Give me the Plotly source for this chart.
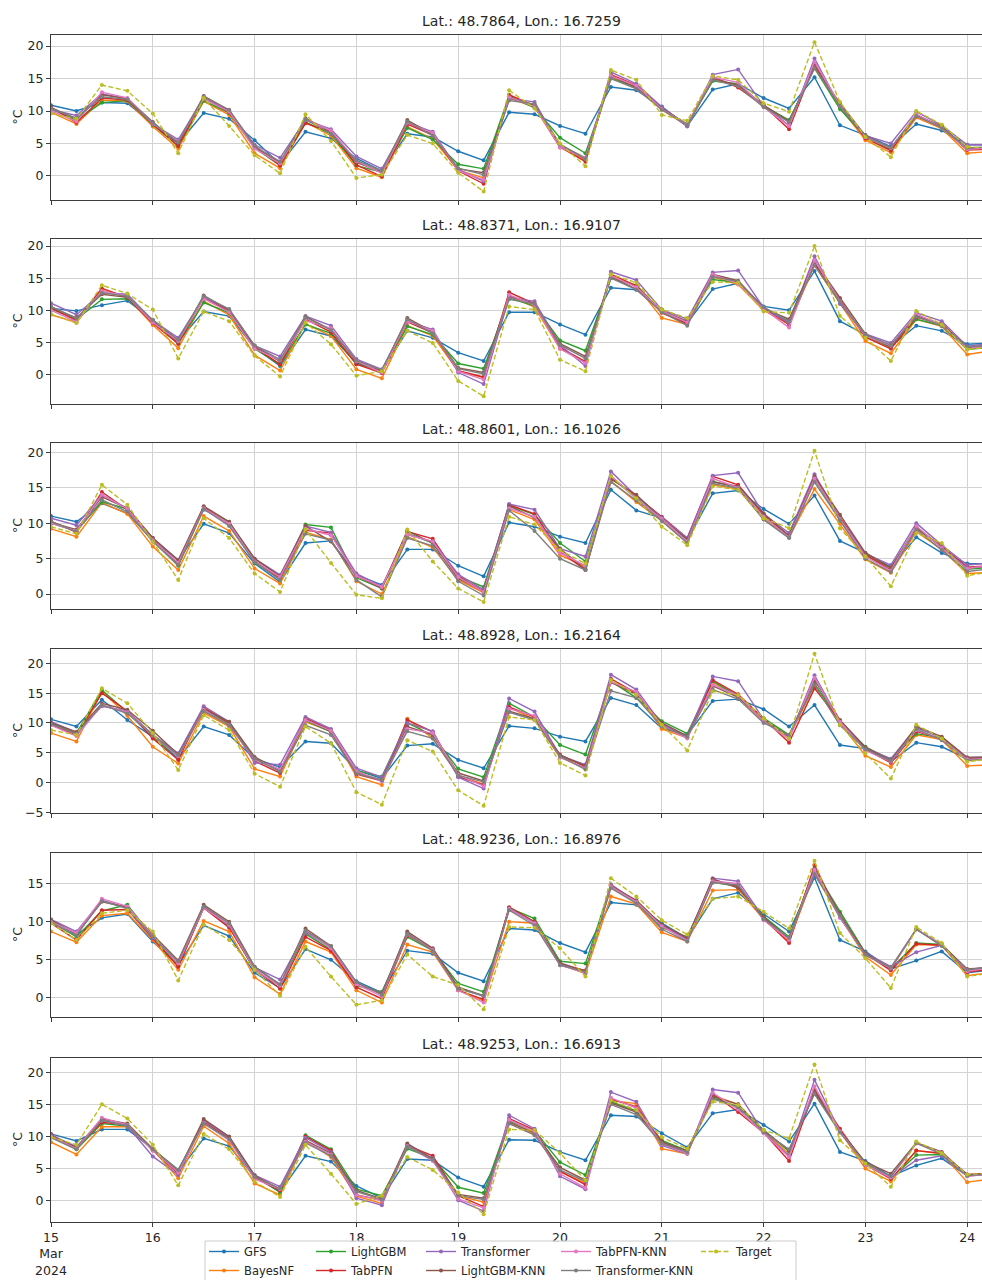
import pandas as pd
import plotly.graph_objects as go
from plotly.subplots import make_subplots

# ---------------- data ----------------
times = pd.date_range("2024-03-15 00:00", periods=38, freq="6h")

series_names = ["GFS", "BayesNF", "LightGBM", "TabPFN", "Transformer",
                "LightGBM-KNN", "TabPFN-KNN", "Transformer-KNN", "Target"]

panel_titles = ["Lat.: 48.7864, Lon.: 16.7259", "Lat.: 48.8371, Lon.: 16.9107",
                "Lat.: 48.8601, Lon.: 16.1026", "Lat.: 48.8928, Lon.: 16.2164",
                "Lat.: 48.9236, Lon.: 16.8976", "Lat.: 48.9253, Lon.: 16.6913"]

x_tick_dates = pd.date_range("2024-03-15", periods=10, freq="D")
x_tick_text = ["15<br>Mar<br>2024", "16", "17", "18", "19", "20", "21", "22", "23", "24"]

# Panel 1 : Lat 48.7864, Lon 16.7259
p1_gfs = [10.9, 10.0, 11.3, 11.2, 8.0, 5.0, 9.7, 8.8, 5.5, 1.8, 6.8, 5.8, 2.7, 0.8, 6.5, 6.0, 3.8, 2.4, 9.8, 9.5, 7.7, 6.5, 13.7, 13.2, 10.7, 7.7, 13.3, 14.2, 12.0, 10.4, 15.2, 7.8, 6.3, 4.5, 8.0, 7.0, 4.8, 4.8]
p1_bayesnf = [9.8, 8.0, 11.7, 11.5, 7.6, 4.2, 11.5, 9.4, 3.5, 1.2, 8.3, 6.2, 1.2, -0.2, 7.6, 5.7, 0.9, -0.3, 12.0, 10.6, 4.4, 2.4, 15.2, 13.5, 10.2, 7.7, 14.8, 13.9, 10.7, 8.3, 16.8, 10.6, 5.5, 3.6, 9.0, 7.3, 3.5, 3.8]
p1_lightgbm = [10.3, 8.6, 11.3, 11.6, 7.9, 4.6, 11.6, 9.7, 4.3, 1.6, 8.3, 6.5, 1.6, 0.6, 7.4, 5.6, 1.8, 1.1, 12.3, 10.5, 5.9, 3.5, 15.0, 13.8, 10.4, 8.0, 14.6, 14.2, 10.8, 8.6, 16.6, 10.3, 6.0, 4.0, 9.3, 7.6, 4.2, 4.2]
p1_tabpfn = [10.6, 8.2, 12.0, 11.7, 8.0, 4.6, 12.0, 9.8, 4.6, 1.6, 8.1, 6.8, 1.7, -0.1, 8.0, 6.3, 0.8, -1.2, 12.5, 10.8, 4.5, 2.2, 15.6, 14.0, 10.5, 7.8, 15.3, 13.6, 10.8, 7.2, 17.2, 10.9, 5.8, 3.9, 9.3, 7.5, 4.0, 4.1]
p1_transformer = [10.2, 9.3, 12.6, 11.9, 8.0, 5.6, 12.1, 10.0, 4.8, 2.8, 8.6, 7.2, 3.0, 1.1, 8.2, 6.8, 1.0, -0.8, 11.9, 11.4, 4.6, 2.6, 16.0, 14.2, 10.6, 7.6, 15.6, 16.4, 10.8, 7.8, 18.1, 10.7, 6.2, 5.0, 9.9, 7.8, 4.8, 4.8]
p1_lightgbm_knn = [10.5, 8.8, 12.5, 11.9, 8.3, 5.0, 12.3, 10.1, 4.5, 2.0, 8.9, 6.8, 2.1, 0.6, 8.6, 6.4, 1.1, 0.5, 12.0, 10.9, 4.8, 2.8, 15.4, 13.6, 10.4, 7.9, 15.0, 14.0, 10.9, 8.4, 16.8, 11.2, 6.2, 4.2, 9.4, 7.6, 4.2, 4.4]
p1_tabpfn_knn = [10.0, 8.4, 12.9, 12.0, 8.1, 5.3, 11.9, 9.9, 4.2, 1.9, 8.7, 7.0, 2.3, 0.4, 8.2, 6.6, 0.8, -0.6, 12.1, 10.7, 4.4, 2.8, 15.4, 13.9, 10.3, 7.9, 15.2, 14.4, 10.6, 7.7, 17.6, 10.9, 6.0, 4.3, 9.5, 7.4, 4.1, 4.3]
p1_transformer_knn = [10.4, 8.9, 12.2, 11.8, 8.2, 5.2, 12.2, 10.2, 4.6, 2.2, 8.7, 6.5, 2.4, 0.8, 8.4, 6.2, 1.2, 0.2, 11.6, 11.1, 4.9, 2.6, 15.0, 13.4, 10.2, 7.8, 14.8, 13.8, 10.6, 8.3, 16.6, 10.8, 6.1, 4.4, 9.2, 7.4, 4.3, 4.5]
p1_target = [9.6, 8.8, 14.0, 13.1, 9.6, 3.5, 12.0, 7.7, 3.2, 0.4, 9.5, 5.4, -0.3, 0.2, 6.3, 5.0, 0.5, -2.4, 13.2, 10.4, 5.0, 1.5, 16.3, 14.8, 9.4, 8.5, 15.4, 14.8, 11.2, 9.9, 20.6, 11.4, 6.0, 2.9, 10.0, 7.9, 4.5, 4.2]

# Panel 2 : Lat 48.8371, Lon 16.9107
p2_gfs = [10.3, 9.9, 10.8, 11.5, 8.5, 5.2, 9.8, 9.1, 4.2, 1.3, 7.0, 6.0, 1.8, 0.5, 6.8, 5.7, 3.4, 2.1, 9.7, 9.7, 7.8, 6.2, 13.5, 13.2, 10.1, 8.0, 13.3, 14.2, 10.6, 10.0, 16.1, 8.3, 6.2, 4.4, 7.6, 6.8, 4.7, 4.9]
p2_bayesnf = [9.3, 8.1, 13.1, 12.0, 7.7, 4.1, 11.4, 9.3, 3.0, 0.6, 7.9, 6.0, 0.8, -0.6, 7.6, 6.0, 0.5, -0.5, 12.2, 10.5, 4.0, 2.0, 15.2, 13.8, 8.8, 7.8, 15.2, 14.0, 10.0, 7.8, 17.0, 11.0, 5.2, 3.3, 8.6, 7.5, 3.1, 3.7]
p2_lightgbm = [10.2, 8.6, 11.7, 11.8, 8.2, 4.8, 11.2, 9.6, 4.0, 1.5, 7.8, 6.4, 1.6, 0.6, 7.5, 6.2, 1.7, 0.9, 11.9, 10.7, 5.3, 3.7, 15.0, 13.9, 9.8, 8.2, 14.8, 14.3, 10.2, 8.2, 17.2, 11.2, 6.0, 4.2, 8.6, 7.6, 3.9, 4.3]
p2_tabpfn = [10.4, 8.4, 13.4, 12.0, 8.0, 4.8, 12.0, 9.8, 4.2, 1.6, 8.6, 6.6, 1.6, 0.2, 8.2, 6.5, 0.6, -0.4, 12.8, 11.0, 4.2, 2.0, 15.6, 13.8, 9.6, 7.9, 15.5, 14.4, 10.4, 7.8, 17.4, 11.6, 5.8, 4.0, 8.9, 7.9, 4.2, 4.6]
p2_transformer = [11.1, 9.3, 12.7, 12.5, 8.4, 5.7, 12.0, 10.1, 4.5, 2.8, 9.1, 7.6, 2.4, 0.8, 8.3, 7.0, 0.3, -1.5, 12.0, 11.4, 4.6, 1.3, 16.0, 14.7, 10.1, 8.6, 15.9, 16.2, 10.4, 8.0, 18.4, 11.0, 6.3, 4.9, 9.6, 8.3, 4.4, 4.9]
p2_lightgbm_knn = [10.5, 8.8, 12.5, 12.0, 8.3, 5.0, 12.3, 10.0, 4.4, 2.0, 9.0, 7.0, 2.0, 0.5, 8.8, 6.6, 1.0, 0.3, 12.3, 10.9, 4.8, 2.8, 15.2, 13.3, 9.9, 8.3, 15.6, 14.6, 10.3, 8.6, 17.6, 11.9, 6.3, 4.3, 9.2, 7.8, 4.2, 4.5]
p2_tabpfn_knn = [10.0, 8.2, 13.0, 12.2, 8.1, 5.2, 11.8, 9.7, 4.0, 2.2, 8.4, 7.2, 2.1, 0.3, 8.3, 6.8, 0.5, -0.8, 12.4, 10.8, 4.0, 1.8, 15.4, 13.6, 9.9, 8.1, 15.6, 14.1, 10.2, 7.3, 17.8, 11.4, 6.0, 4.5, 9.4, 7.7, 4.0, 4.5]
p2_transformer_knn = [10.6, 8.7, 12.7, 12.2, 8.5, 5.4, 12.2, 10.2, 4.5, 2.3, 8.9, 6.9, 2.2, 0.7, 8.6, 6.4, 0.9, 0.1, 11.7, 11.0, 4.6, 2.5, 15.0, 13.2, 9.7, 7.6, 15.2, 14.5, 10.5, 8.3, 17.0, 11.3, 6.2, 4.6, 9.0, 7.6, 4.3, 4.6]
p2_target = [9.4, 8.0, 13.9, 12.6, 10.1, 2.5, 9.8, 8.3, 2.9, -0.3, 8.1, 4.7, -0.2, 0.5, 6.8, 4.9, -1.0, -3.4, 10.6, 10.1, 2.3, 0.5, 15.6, 14.3, 10.1, 8.8, 14.4, 14.3, 9.8, 9.6, 20.0, 9.1, 5.7, 2.1, 9.9, 7.8, 3.9, 4.3]

# Panel 3 : Lat 48.8601, Lon 16.1026
p3_gfs = [11.0, 10.2, 12.8, 11.4, 7.6, 4.8, 9.9, 8.6, 4.3, 1.7, 7.2, 7.5, 2.7, 1.3, 6.3, 6.3, 4.0, 2.5, 10.1, 9.5, 8.1, 7.2, 14.7, 11.8, 10.7, 7.6, 14.2, 14.6, 12.0, 9.9, 13.9, 7.5, 5.8, 3.8, 8.0, 5.8, 4.3, 4.3]
p3_bayesnf = [9.2, 8.1, 12.9, 11.3, 6.7, 3.4, 11.0, 8.9, 3.6, 1.5, 8.7, 7.7, 1.8, 0.0, 8.1, 6.6, 2.0, 0.2, 11.9, 10.5, 5.5, 3.9, 15.9, 13.0, 10.3, 7.3, 15.4, 14.8, 10.6, 8.0, 14.8, 9.9, 4.9, 3.0, 8.8, 6.3, 2.9, 3.1]
p3_lightgbm = [10.0, 8.9, 13.0, 12.0, 7.5, 4.0, 12.0, 10.2, 4.4, 2.3, 9.8, 9.4, 2.3, 0.8, 8.6, 7.2, 2.5, 1.0, 12.5, 11.2, 7.2, 4.6, 16.5, 13.5, 10.5, 7.8, 15.9, 15.0, 10.9, 8.3, 16.2, 10.4, 5.4, 3.7, 9.5, 6.6, 3.5, 3.8]
p3_tabpfn = [10.3, 8.7, 14.4, 11.9, 7.7, 4.2, 12.3, 9.8, 4.7, 2.2, 9.0, 8.6, 2.6, 1.0, 8.8, 7.8, 2.5, 0.4, 12.6, 11.3, 6.0, 3.4, 16.4, 13.8, 10.9, 7.9, 16.6, 15.4, 11.2, 8.2, 16.4, 10.8, 5.6, 3.4, 9.4, 6.7, 3.8, 4.0]
p3_transformer = [10.7, 9.7, 14.0, 12.1, 7.9, 4.7, 11.9, 10.0, 5.0, 2.7, 9.6, 8.7, 2.9, 1.1, 8.4, 7.4, 2.8, 0.6, 12.7, 11.9, 6.4, 5.3, 17.3, 13.8, 10.8, 7.9, 16.7, 17.1, 11.3, 8.6, 16.9, 10.6, 5.7, 4.1, 10.0, 6.9, 4.1, 4.4]
p3_lightgbm_knn = [10.1, 9.1, 13.7, 12.1, 7.9, 4.8, 12.4, 10.2, 5.0, 2.5, 9.6, 7.4, 2.6, 0.8, 8.9, 7.2, 2.2, 0.4, 12.4, 10.8, 6.4, 3.5, 16.2, 14.0, 10.6, 7.7, 15.8, 15.2, 11.4, 8.2, 16.6, 11.2, 5.8, 3.7, 9.3, 6.6, 3.7, 3.9]
p3_tabpfn_knn = [10.0, 8.9, 14.0, 12.0, 7.6, 4.4, 12.1, 9.9, 4.6, 2.4, 9.2, 8.3, 2.6, 1.0, 8.4, 7.4, 2.4, 0.3, 12.1, 10.9, 5.8, 4.0, 16.7, 13.4, 10.6, 7.4, 16.3, 15.0, 10.9, 8.0, 16.3, 10.6, 5.3, 3.3, 9.6, 6.5, 3.6, 4.1]
p3_transformer_knn = [10.2, 8.8, 13.3, 11.6, 7.4, 4.1, 12.0, 9.6, 4.5, 2.0, 8.5, 7.6, 2.0, -0.4, 7.9, 6.8, 1.8, -0.2, 11.8, 8.9, 5.0, 3.4, 15.8, 13.2, 10.3, 7.2, 15.6, 14.9, 10.5, 7.9, 15.8, 10.4, 5.0, 3.1, 9.1, 6.2, 3.2, 3.6]
p3_target = [9.5, 8.5, 15.4, 12.6, 7.4, 2.0, 10.7, 7.9, 2.9, 0.3, 9.1, 4.4, -0.1, -0.6, 9.1, 4.6, 0.8, -1.1, 10.9, 9.8, 6.2, 4.3, 16.6, 13.5, 9.5, 6.9, 15.2, 14.7, 10.7, 9.3, 20.2, 9.3, 5.3, 1.1, 8.6, 7.2, 2.6, 3.2]

# Panel 4 : Lat 48.8928, Lon 16.2164
p4_gfs = [10.6, 9.4, 13.9, 10.5, 7.7, 4.0, 9.4, 8.0, 4.0, 2.6, 6.9, 6.6, 2.1, 0.7, 6.2, 6.5, 3.8, 2.4, 9.5, 9.1, 7.7, 6.9, 14.2, 13.0, 9.1, 8.0, 13.7, 14.0, 12.3, 9.4, 13.0, 6.3, 5.7, 3.5, 6.7, 6.0, 4.0, 4.0]
p4_bayesnf = [8.3, 6.9, 15.3, 11.2, 6.0, 3.2, 11.7, 9.4, 2.3, 1.0, 10.2, 8.6, 1.0, -0.4, 10.7, 7.4, 1.2, -0.3, 12.6, 10.6, 4.2, 3.0, 16.9, 15.0, 9.0, 7.5, 16.8, 14.4, 10.2, 7.6, 16.3, 10.0, 4.5, 2.6, 8.0, 7.2, 2.8, 3.0]
p4_lightgbm = [10.0, 8.3, 15.5, 11.8, 7.6, 4.4, 12.4, 9.8, 4.0, 2.1, 10.4, 8.5, 2.0, 1.0, 10.0, 7.9, 2.3, 0.9, 13.3, 11.0, 6.3, 4.7, 17.0, 14.2, 10.3, 8.2, 17.0, 14.5, 10.8, 8.0, 16.6, 10.3, 6.0, 3.8, 8.2, 7.5, 4.0, 4.3]
p4_tabpfn = [9.8, 7.9, 15.0, 12.0, 7.4, 3.8, 12.6, 10.0, 3.6, 1.6, 10.8, 8.8, 1.4, 0.3, 10.5, 8.5, 1.0, -0.4, 12.7, 11.0, 4.7, 2.6, 17.4, 15.0, 9.6, 7.6, 17.2, 14.8, 10.7, 6.7, 15.8, 10.4, 5.6, 3.3, 8.6, 7.3, 4.1, 4.2]
p4_transformer = [10.2, 8.4, 12.8, 12.0, 8.0, 4.9, 12.8, 10.2, 3.3, 3.0, 11.0, 9.0, 2.4, 0.9, 10.0, 8.6, 0.9, -1.0, 14.1, 11.9, 4.5, 3.0, 18.1, 15.6, 9.8, 7.8, 17.8, 17.0, 10.6, 7.6, 18.0, 10.3, 5.8, 4.0, 9.2, 7.5, 4.2, 4.3]
p4_lightgbm_knn = [10.0, 8.5, 13.3, 12.2, 8.7, 4.7, 12.3, 10.2, 4.3, 2.0, 10.6, 8.6, 1.7, 0.4, 9.4, 8.0, 1.6, 0.3, 12.0, 10.7, 4.6, 2.8, 16.8, 14.8, 10.0, 7.8, 16.2, 14.3, 10.5, 7.8, 17.2, 10.5, 5.9, 3.7, 9.4, 7.7, 4.2, 4.3]
p4_tabpfn_knn = [9.6, 7.8, 13.0, 11.8, 7.9, 4.4, 12.2, 9.6, 3.9, 2.2, 10.5, 8.7, 1.9, 0.2, 9.0, 8.3, 1.3, -0.6, 12.4, 11.2, 4.2, 2.4, 16.9, 15.2, 9.6, 7.4, 16.4, 14.6, 10.3, 7.3, 17.6, 10.2, 5.4, 3.5, 8.8, 7.2, 3.9, 4.1]
p4_transformer_knn = [9.8, 8.2, 13.0, 11.6, 8.0, 4.6, 12.0, 9.6, 4.0, 1.8, 9.6, 8.0, 1.5, 0.4, 8.6, 7.4, 1.2, 0.1, 11.8, 10.5, 4.4, 2.2, 15.4, 14.2, 9.4, 7.7, 15.6, 14.0, 10.0, 8.0, 16.4, 9.6, 5.6, 3.6, 9.0, 7.1, 3.7, 4.0]
p4_target = [8.8, 8.0, 15.8, 13.3, 8.3, 2.1, 11.3, 8.8, 1.5, -0.7, 9.4, 6.6, -1.6, -3.7, 7.1, 5.2, -1.3, -3.9, 11.0, 10.5, 3.3, 1.2, 17.2, 14.7, 9.7, 5.4, 15.3, 14.7, 10.8, 7.4, 21.6, 9.7, 4.9, 0.7, 9.7, 7.4, 3.5, 4.0]

# Panel 5 : Lat 48.9236, Lon 16.8976
p5_gfs = [10.2, 8.3, 10.5, 11.0, 7.4, 4.3, 9.5, 8.1, 3.3, 1.3, 6.4, 5.0, 2.2, 0.7, 6.2, 5.8, 3.3, 2.2, 9.1, 8.9, 7.2, 6.0, 12.5, 12.2, 9.8, 7.8, 13.0, 13.8, 11.0, 8.7, 15.8, 7.6, 6.1, 3.8, 4.9, 6.1, 3.3, 3.7]
p5_bayesnf = [8.7, 7.3, 10.8, 11.1, 7.6, 3.7, 10.1, 8.7, 2.7, 0.5, 7.4, 6.0, 1.0, -0.6, 7.0, 6.0, 1.0, -0.4, 10.0, 9.8, 4.4, 3.2, 13.3, 12.3, 8.6, 7.4, 14.1, 14.2, 10.3, 7.4, 16.3, 10.6, 5.4, 3.0, 7.0, 6.9, 2.9, 3.4]
p5_lightgbm = [10.0, 8.0, 11.4, 12.2, 8.0, 4.2, 11.9, 9.4, 3.6, 1.6, 8.4, 6.3, 1.6, 0.8, 8.0, 6.2, 1.9, 0.8, 11.8, 10.4, 4.8, 4.5, 14.8, 12.6, 9.2, 8.0, 15.2, 14.6, 10.7, 8.0, 16.8, 11.3, 5.9, 3.8, 7.2, 7.0, 3.6, 3.9]
p5_tabpfn = [9.8, 7.6, 11.5, 11.6, 7.8, 4.1, 11.8, 9.2, 3.8, 1.2, 8.0, 6.2, 1.4, -0.1, 8.2, 6.4, 1.0, -0.2, 11.9, 10.0, 4.4, 3.6, 14.6, 12.7, 9.4, 7.6, 15.5, 14.6, 10.4, 7.2, 17.4, 10.6, 5.8, 3.6, 7.1, 6.9, 3.4, 3.8]
p5_transformer = [10.3, 8.7, 12.8, 11.8, 7.9, 4.6, 12.0, 9.5, 4.0, 2.4, 8.6, 6.6, 2.0, 0.6, 8.5, 6.2, 1.3, 0.2, 11.6, 9.8, 4.5, 3.3, 14.9, 12.6, 9.5, 7.6, 15.7, 15.3, 10.5, 7.7, 16.6, 10.5, 5.9, 4.1, 6.0, 6.9, 3.6, 4.2]
p5_lightgbm_knn = [10.2, 8.4, 12.6, 11.9, 8.3, 4.9, 12.2, 10.0, 4.1, 1.7, 9.1, 6.8, 2.0, 0.5, 8.7, 6.5, 1.4, 0.3, 11.8, 9.9, 4.6, 3.5, 14.7, 12.8, 9.6, 7.9, 15.6, 14.4, 10.6, 7.8, 17.0, 11.0, 5.8, 3.8, 9.0, 7.0, 3.8, 4.0]
p5_tabpfn_knn = [10.0, 8.5, 13.0, 12.0, 8.1, 4.5, 11.8, 9.6, 3.7, 1.6, 8.8, 6.5, 1.8, 0.2, 8.3, 6.3, 1.0, -0.6, 11.7, 9.8, 4.3, 3.3, 14.6, 12.6, 9.4, 7.5, 15.3, 15.0, 10.2, 7.6, 16.8, 10.6, 5.6, 3.9, 9.0, 6.9, 3.5, 4.0]
p5_transformer_knn = [9.9, 8.2, 12.7, 11.7, 8.0, 4.8, 12.0, 9.8, 4.0, 1.8, 8.8, 6.8, 2.1, 0.4, 8.4, 6.2, 1.2, 0.3, 11.5, 9.5, 4.3, 3.4, 14.4, 12.4, 9.0, 7.4, 15.1, 14.8, 10.3, 7.9, 16.2, 10.8, 5.6, 4.0, 9.0, 6.8, 3.7, 4.1]
p5_target = [9.8, 7.6, 11.1, 11.5, 8.7, 2.3, 9.6, 7.6, 3.7, 0.3, 6.7, 2.8, -0.9, -0.3, 5.7, 2.8, 1.7, -1.5, 9.3, 9.2, 6.5, 2.8, 15.7, 13.3, 10.2, 8.3, 13.0, 13.3, 11.3, 9.1, 18.0, 8.5, 5.2, 1.3, 9.3, 7.2, 2.8, 3.3]

# Panel 6 : Lat 48.9253, Lon 16.6913
p6_gfs = [10.4, 9.3, 11.1, 11.1, 8.1, 4.5, 9.7, 8.5, 3.7, 1.4, 7.0, 6.1, 2.3, 0.4, 6.5, 6.3, 3.6, 2.2, 9.5, 9.4, 7.6, 6.3, 13.3, 13.1, 10.5, 8.3, 13.6, 14.2, 11.8, 9.2, 15.1, 7.6, 6.2, 3.8, 5.5, 6.6, 3.9, 4.2]
p6_bayesnf = [9.1, 7.2, 11.5, 11.5, 8.0, 3.5, 11.6, 8.9, 2.7, 0.9, 9.4, 6.8, 0.7, -0.4, 8.5, 6.3, 0.8, -0.2, 12.0, 10.4, 4.5, 2.8, 15.6, 15.1, 8.1, 7.3, 16.4, 15.0, 10.8, 7.3, 17.0, 10.8, 5.0, 3.0, 7.8, 7.3, 2.9, 3.4]
p6_lightgbm = [10.0, 8.0, 12.0, 11.6, 8.0, 4.8, 12.2, 9.6, 3.9, 1.3, 10.2, 8.0, 1.8, 0.8, 8.1, 6.6, 2.1, 1.2, 12.4, 10.9, 6.0, 4.0, 15.4, 14.0, 9.4, 7.8, 16.0, 14.6, 11.0, 7.7, 16.8, 11.0, 5.8, 3.5, 7.1, 7.2, 4.0, 4.2]
p6_tabpfn = [10.3, 8.2, 12.2, 11.8, 7.8, 4.2, 12.3, 9.7, 3.6, 1.6, 10.0, 7.8, 0.9, 0.1, 8.6, 7.0, 0.8, -0.9, 12.8, 11.0, 4.6, 2.5, 15.8, 14.6, 9.2, 7.5, 16.6, 13.8, 10.6, 6.2, 17.3, 11.2, 5.6, 3.4, 7.8, 7.4, 4.1, 4.3]
p6_transformer = [10.2, 8.4, 12.5, 11.6, 6.9, 4.0, 12.5, 9.9, 4.0, 2.2, 9.8, 7.6, 0.4, -0.7, 8.7, 6.6, 0.1, -1.6, 13.3, 11.2, 3.8, 1.8, 16.9, 15.4, 8.6, 7.3, 17.3, 16.8, 10.6, 7.0, 18.8, 10.8, 5.6, 3.6, 6.3, 7.0, 3.9, 4.1]
p6_lightgbm_knn = [10.1, 8.3, 12.7, 12.0, 8.1, 4.6, 12.7, 10.0, 3.9, 1.8, 9.4, 7.4, 1.6, 0.3, 8.9, 6.5, 1.0, 0.4, 12.2, 10.6, 5.2, 3.2, 15.2, 13.8, 9.1, 7.8, 16.2, 15.0, 10.9, 7.9, 17.0, 10.9, 6.0, 4.2, 9.0, 7.6, 4.0, 4.3]
p6_tabpfn_knn = [10.0, 8.1, 12.9, 11.8, 7.8, 4.4, 12.1, 9.4, 3.4, 1.8, 9.2, 7.2, 0.9, 0.0, 8.5, 6.2, 0.3, -1.1, 12.6, 10.8, 4.2, 2.0, 16.0, 14.4, 8.8, 7.4, 16.8, 14.2, 10.5, 6.8, 17.8, 10.8, 5.6, 3.6, 8.9, 7.4, 3.8, 4.2]
p6_transformer_knn = [9.8, 8.0, 12.5, 11.7, 8.0, 4.8, 12.0, 9.6, 3.7, 1.9, 9.0, 7.0, 1.4, 0.2, 8.4, 6.4, 0.8, 0.2, 12.0, 10.2, 4.8, 3.0, 15.0, 13.4, 8.9, 7.6, 15.8, 14.6, 10.7, 8.0, 16.6, 10.6, 5.8, 3.8, 9.0, 7.2, 3.9, 4.2]
p6_target = [9.9, 8.7, 15.0, 12.8, 8.7, 2.4, 10.4, 8.0, 3.0, 0.6, 8.7, 4.2, -0.5, 0.8, 6.8, 4.8, 1.3, -2.1, 11.1, 11.0, 7.4, 3.2, 15.6, 14.1, 9.9, 8.1, 15.4, 14.9, 11.0, 9.7, 21.2, 9.4, 5.8, 2.2, 9.2, 7.4, 4.1, 4.3]

panels = [
    [p1_gfs, p1_bayesnf, p1_lightgbm, p1_tabpfn, p1_transformer, p1_lightgbm_knn, p1_tabpfn_knn, p1_transformer_knn, p1_target],
    [p2_gfs, p2_bayesnf, p2_lightgbm, p2_tabpfn, p2_transformer, p2_lightgbm_knn, p2_tabpfn_knn, p2_transformer_knn, p2_target],
    [p3_gfs, p3_bayesnf, p3_lightgbm, p3_tabpfn, p3_transformer, p3_lightgbm_knn, p3_tabpfn_knn, p3_transformer_knn, p3_target],
    [p4_gfs, p4_bayesnf, p4_lightgbm, p4_tabpfn, p4_transformer, p4_lightgbm_knn, p4_tabpfn_knn, p4_transformer_knn, p4_target],
    [p5_gfs, p5_bayesnf, p5_lightgbm, p5_tabpfn, p5_transformer, p5_lightgbm_knn, p5_tabpfn_knn, p5_transformer_knn, p5_target],
    [p6_gfs, p6_bayesnf, p6_lightgbm, p6_tabpfn, p6_transformer, p6_lightgbm_knn, p6_tabpfn_knn, p6_transformer_knn, p6_target],
]

# ---------------- styling ----------------
W, H = 982, 1280
L = 51
colors = ["#1f77b4", "#ff7f0e", "#2ca02c", "#d62728", "#9467bd",
          "#8c564b", "#e377c2", "#7f7f7f", "#bcbd22"]
panel_px = [(35, 200), (239, 404), (443, 609), (649, 813), (853, 1017), (1058, 1222)]
y_ranges = [(-3.7, 21.7), (-4.6, 21.1), (-2.1, 21.3), (-5.1, 22.4), (-2.5, 19.0), (-3.3, 22.2)]
y_ticks = [[0, 5, 10, 15, 20]] * 3 + [[-5, 0, 5, 10, 15, 20], [0, 5, 10, 15], [0, 5, 10, 15, 20]]
FONT = "DejaVu Sans, Verdana, sans-serif"
TXT = "#262626"

# legend: columns (column-major like matplotlib)
legend_cols = [["GFS", "BayesNF"], ["LightGBM", "TabPFN"], ["Transformer", "LightGBM-KNN"],
               ["TabPFN-KNN", "Transformer-KNN"], ["Target"]]
legend_col_px = [204, 311, 421, 556, 696]
legend_top_px = 1241

fig = make_subplots(rows=6, cols=1, shared_xaxes=True)

name_to_legend = {}
for ci, col in enumerate(legend_cols):
    for n in col:
        name_to_legend[n] = "legend" if ci == 0 else f"legend{ci + 1}"

for p, series in enumerate(panels):
    for s, (name, vals) in enumerate(zip(series_names, series)):
        is_target = name == "Target"
        fig.add_trace(go.Scatter(
            x=times, y=vals, name=name, mode="lines+markers",
            line=dict(color=colors[s], width=1.4, dash="5px,2.5px" if is_target else "solid"),
            marker=dict(color=colors[s], size=4),
            showlegend=(p == 0), legend=name_to_legend[name],
            legendrank=s,
        ), row=p + 1, col=1)

x0 = pd.Timestamp("2024-03-15 00:00")
x1 = x0 + pd.Timedelta(days=(W - L) / 101.8)

for p in range(6):
    top, bot = panel_px[p]
    ax = "" if p == 0 else str(p + 1)
    fig.layout["yaxis" + ax].update(
        domain=[1 - bot / H, 1 - top / H], range=list(y_ranges[p]),
        tickvals=y_ticks[p], showgrid=True, gridcolor="#d3d3d3", gridwidth=1,
        zeroline=False, showline=True, mirror=True, linecolor="#3c3c3c", linewidth=1,
        ticks="outside", ticklen=4, tickcolor="#3c3c3c",
        tickfont=dict(family=FONT, size=12.5, color=TXT),
    )
    fig.layout["xaxis" + ax].update(
        type="date", range=[x0, x1], tickvals=list(x_tick_dates), ticktext=x_tick_text,
        showgrid=True, gridcolor="#d3d3d3", gridwidth=1, zeroline=False,
        showline=True, mirror=True, linecolor="#3c3c3c", linewidth=1,
        ticks="outside", ticklen=4, tickcolor="#3c3c3c",
        showticklabels=(p == 5),
        tickfont=dict(family=FONT, size=12.5, color=TXT),
    )
    # panel title
    fig.add_annotation(text=panel_titles[p], xref="paper", yref="paper",
                       x=(521 - L) / (W - L), y=1 - top / H, yshift=4,
                       xanchor="center", yanchor="bottom", showarrow=False,
                       font=dict(family=FONT, size=14, color=TXT))
    # y label
    fig.add_annotation(text="°C", xref="paper", yref="paper",
                       x=(17 - L) / (W - L), y=1 - (top + bot) / 2 / H,
                       xanchor="center", yanchor="middle", textangle=-90,
                       showarrow=False, font=dict(family=FONT, size=12.5, color=TXT))

legend_common = dict(orientation="v", yanchor="top", xanchor="left",
                     bgcolor="rgba(0,0,0,0)", borderwidth=0,
                     font=dict(family=FONT, size=11.5, color=TXT), tracegroupgap=0)
layout_legends = {}
for ci in range(len(legend_cols)):
    key = "legend" if ci == 0 else f"legend{ci + 1}"
    layout_legends[key] = dict(legend_common, x=(legend_col_px[ci] - L) / (W - L),
                               y=1 - (legend_top_px - 4) / H)

fig.update_layout(
    width=W, height=H, plot_bgcolor="white", paper_bgcolor="white",
    margin=dict(l=L, r=0, t=0, b=0, autoexpand=False),
    font=dict(family=FONT, size=12, color=TXT),
    **layout_legends,
)

# legend frame
fig.add_shape(type="rect", xref="paper", yref="paper",
              x0=(205 - L) / (W - L), x1=(796 - L) / (W - L),
              y0=1 - 1295 / H, y1=1 - legend_top_px / H,
              line=dict(color="#cccccc", width=1), fillcolor="rgba(255,255,255,0.8)",
              layer="above")

fig.write_html("out.html")
